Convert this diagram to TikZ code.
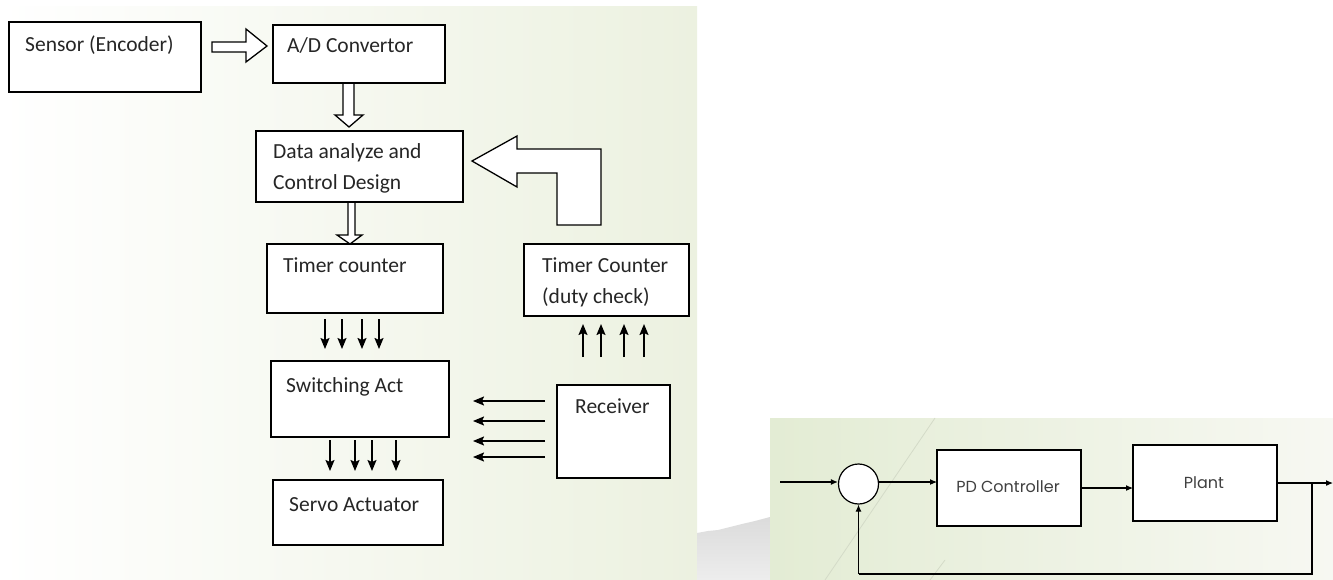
\documentclass[tikz,border=0pt]{standalone}
\usepackage{fontspec}
\setmainfont{Carlito}
\newfontfamily\gothic{Poppins}
\usetikzlibrary{arrows.meta}
\definecolor{lpanel}{RGB}{236,241,224}
\definecolor{rpanelL}{RGB}{227,236,212}
\definecolor{rpanelR}{RGB}{247,248,242}
\definecolor{faint}{RGB}{212,219,200}
\begin{document}
\begin{tikzpicture}[x=1pt,y=-1pt,
  box/.style={draw, line width=1.8pt, fill=white, inner sep=0pt, outer sep=0pt, anchor=north west},
  lbl/.style={anchor=base west, inner sep=0pt, font=\fontsize{21.5}{24}\selectfont, text=black!85},
  barrow/.style={draw, line width=1.3pt, fill=white, line join=miter},
  thinarr/.style={line width=1.6pt, -{Stealth[length=11pt,width=9pt,inset=2pt]}},
  rbox/.style={draw, line width=1.1pt, fill=white, inner sep=0pt, outer sep=0pt, anchor=north west},
  rarr/.style={line width=1.1pt, -{Latex[length=7pt,width=6pt]}},
  rline/.style={line width=1.1pt},
  rlbl/.style={anchor=base, inner sep=0pt, font=\gothic\fontsize{16}{19}\selectfont, text=black!75}
]
\useasboundingbox (0,0) rectangle (1333,580);
\fill[white] (0,0) rectangle (1333,580);
% backgrounds
\shade[left color=white, right color=lpanel] (0,7) rectangle (697,580);
\shade[top color=black!14, bottom color=black!7] (697,533) -- (708,531) -- (718,530) -- (730,527) -- (742,524) -- (755,521) -- (770,517) -- (770,580) -- (697,580) -- cycle;
\shade[left color=rpanelL, right color=rpanelR] (770,418) rectangle (1333,580);
\draw[faint, line width=0.8pt] (935,418) -- (825,580);
\draw[faint, line width=0.8pt] (945,560) -- (930,580);

% ---------- left diagram ----------
% block arrows
\draw[barrow] (212,42) -- (246,42) -- (246,29) -- (267,46) -- (246,62) -- (246,52) -- (212,52) -- cycle;
\draw[barrow] (343,83) -- (354,83) -- (354,115) -- (363,115) -- (349,127) -- (335,115) -- (343,115) -- cycle;
\draw[barrow] (348,202) -- (355,202) -- (355,235) -- (362,235) -- (350,244) -- (337,235) -- (348,235) -- cycle;
\draw[barrow] (472,161) -- (517,136) -- (517,149) -- (601,149) -- (601,225) -- (557,225) -- (557,173) -- (517,173) -- (517,187) -- cycle;

\node[box, minimum width=192pt, minimum height=70pt] (sensor) at (9,22) {};
\node[box, minimum width=172pt, minimum height=58pt] (ad) at (273,25) {};
\node[box, minimum width=207pt, minimum height=71pt] (data) at (256,131) {};
\node[box, minimum width=176pt, minimum height=69pt] (tc) at (267,244) {};
\node[box, minimum width=165pt, minimum height=72pt] (tcd) at (524,244) {};
\node[box, minimum width=178pt, minimum height=76pt] (sw) at (271,361) {};
\node[box, minimum width=170pt, minimum height=65pt] (servo) at (273,480) {};
\node[box, minimum width=113pt, minimum height=93pt] (rec) at (557,385) {};

\node[lbl] (tsensor) at (25,52) {Sensor (Encoder)};
\node[lbl] (tad) at (287,53) {A/D Convertor};
\node[lbl] (tdata1) at (273,159) {Data analyze and};
\node[lbl] (tdata2) at (273,190) {Control Design};
\node[lbl] (ttc) at (283,272) {Timer counter};
\node[lbl] (ttcd1) at (542,272) {Timer Counter};
\node[lbl] (ttcd2) at (542,303) {(duty check)};
\node[lbl] (tsw) at (286,392) {Switching Act};
\node[lbl] (trec) at (575,413) {Receiver};
\node[lbl] (tservo) at (289,511) {Servo Actuator};

% thin arrow bundles
\foreach \x in {325,342,362,379} \draw[thinarr] (\x,319) -- (\x,349);
\foreach \x in {330,355,372,396} \draw[thinarr] (\x,440) -- (\x,471);
\foreach \x in {583,601,624,644} \draw[thinarr] (\x,357) -- (\x,324);
\foreach \y in {401,421,441,457} \draw[thinarr] (545,\y) -- (473,\y);

% ---------- right diagram ----------
\node[draw, circle, line width=1.2pt, fill=white, minimum size=40pt, inner sep=0pt] (sum) at (858.5,484) {};
\node[rbox, minimum width=144pt, minimum height=76pt] (pd) at (937,450) {};
\node[rbox, minimum width=144pt, minimum height=76pt] (plant) at (1133,445) {};
\node[rlbl] (tpd) at (1008,492) {PD Controller};
\node[rlbl] (tplant) at (1204,488) {Plant};

\coordinate (in) at (780,482);
\coordinate (out) at (1333,483);
\coordinate (br) at (1312,483);
\coordinate (fb) at (1312,574);

\draw[rarr] (in) -- (sum.west |- in);
\draw[rarr] ([yshift=2pt]sum.east) -- ([yshift=2pt]sum.east -| pd.west);
\draw[rarr] (pd.east) -- (pd.east -| plant.west);
\draw[rarr] (plant.east |- out) -- (out);
\draw[rline] (br) -- (fb) -- (fb -| sum.south);
\draw[rarr] (fb -| sum.south) -- (sum.south);
\end{tikzpicture}
\end{document}
